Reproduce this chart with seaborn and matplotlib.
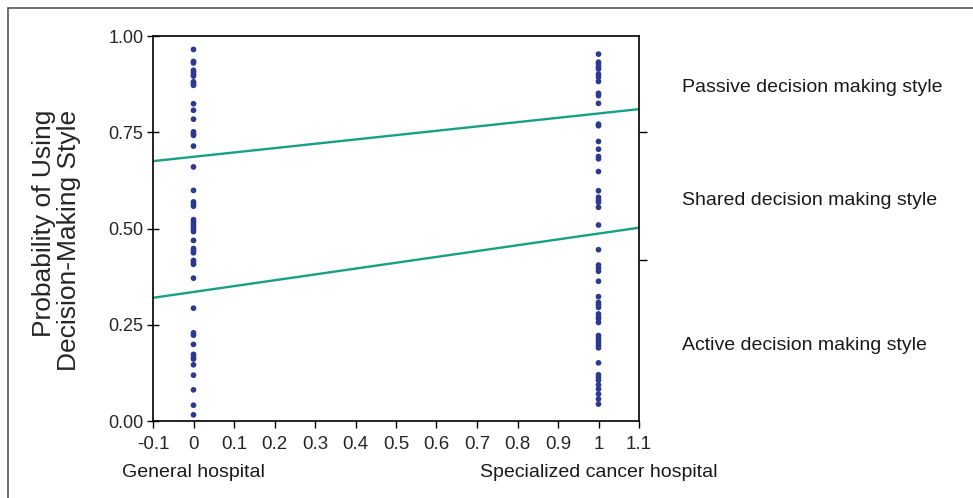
import numpy as np
import pandas as pd
import matplotlib.pyplot as plt
import matplotlib.patches as patches
import seaborn as sns

# Observed probabilities per hospital type (0 = general, 1 = specialized cancer)
general_probs = [0.965, 0.934, 0.930, 0.911, 0.906, 0.900, 0.896, 0.881, 0.876, 0.872,
                 0.824, 0.807, 0.784, 0.751, 0.746, 0.742, 0.714, 0.660, 0.599, 0.569,
                 0.564, 0.558, 0.523, 0.517, 0.511, 0.504, 0.498, 0.492, 0.469, 0.448,
                 0.442, 0.437, 0.417, 0.412, 0.407, 0.371, 0.293, 0.229, 0.223, 0.199,
                 0.173, 0.167, 0.161, 0.146, 0.119, 0.081, 0.041, 0.016]
specialized_probs = [0.953, 0.932, 0.927, 0.920, 0.914, 0.901, 0.893, 0.882, 0.851, 0.845,
                     0.825, 0.771, 0.767, 0.726, 0.706, 0.687, 0.681, 0.648, 0.598, 0.581,
                     0.574, 0.568, 0.555, 0.509, 0.445, 0.405, 0.397, 0.389, 0.363, 0.323,
                     0.308, 0.302, 0.295, 0.278, 0.271, 0.265, 0.256, 0.222, 0.216, 0.209,
                     0.203, 0.196, 0.190, 0.151, 0.120, 0.113, 0.106, 0.094, 0.083, 0.070,
                     0.057, 0.044]

# Fitted cumulative probability lines (ends at x = -0.1 and 1.1)
line_x = [-0.1, 1.1]
upper_line = [0.675, 0.810]
lower_line = [0.320, 0.502]

x_ticks = [-0.1, 0, 0.1, 0.2, 0.3, 0.4, 0.5, 0.6, 0.7, 0.8, 0.9, 1, 1.1]
x_ticklabels = ["-0.1", "0", "0.1", "0.2", "0.3", "0.4", "0.5", "0.6", "0.7", "0.8", "0.9", "1", "1.1"]
y_ticks = [0.0, 0.25, 0.5, 0.75, 1.0]
right_ticks = [0.75, 0.418]

hospital_labels = ["General hospital", "Specialized cancer hospital"]
style_labels = ["Passive decision making style", "Shared decision making style",
                "Active decision making style"]
style_label_y = [0.865, 0.574, 0.197]

pts = pd.DataFrame({
    "hospital": [0] * len(general_probs) + [1] * len(specialized_probs),
    "prob": general_probs + specialized_probs,
})
lines = pd.DataFrame({
    "x": line_x * 2,
    "y": upper_line + lower_line,
    "which": ["upper"] * 2 + ["lower"] * 2,
})

sns.set_style("white")
plt.rcParams['font.family'] = ['Liberation Sans', 'DejaVu Sans']

fig, ax = plt.subplots(figsize=(9.73, 4.98), dpi=100)
fig.subplots_adjust(left=153/973, right=639/973, top=1-36/498, bottom=1-421/498)

sns.lineplot(data=lines, x="x", y="y", units="which", estimator=None,
             color="#17a086", linewidth=1.7, ax=ax)
sns.scatterplot(data=pts, x="hospital", y="prob", color="#2b3a8e", s=17,
                edgecolor="none", ax=ax, zorder=3)

ax.set_xlim(-0.1, 1.1)
ax.set_ylim(0, 1)
ax.set_xticks(x_ticks)
ax.set_xticklabels(x_ticklabels, fontsize=13.5)
ax.set_yticks(y_ticks)
ax.set_yticklabels([f"{v:.2f}" for v in y_ticks], fontsize=13)
ax.tick_params(axis="x", direction="out", length=5, width=1, color="black", pad=6,
               bottom=True)
ax.tick_params(axis="y", direction="inout", length=8, width=1, color="black", pad=3,
               left=True)
ax.set_xlabel("")
ax.set_ylabel("Probability of Using\nDecision-Making Style", fontsize=19,
              linespacing=1.05, multialignment="right")
ax.yaxis.set_label_coords(-0.148, 0.47)
for s in ax.spines.values():
    s.set_color("black")
    s.set_linewidth(1.2)

# ticks on the right spine marking category boundaries
ax2 = ax.twinx()
ax2.set_ylim(0, 1)
ax2.set_yticks(right_ticks)
ax2.set_yticklabels([])
ax2.tick_params(axis="y", direction="out", length=6, width=1, color="black", right=True)
ax2.grid(False)
for s in ax2.spines.values():
    s.set_visible(False)

for xv, lab in zip([0, 1], hospital_labels):
    ax.text(xv, -0.135, lab, transform=ax.get_xaxis_transform(), ha="center",
            va="center", fontsize=14, color="#1a1a1a")

for yv, lab in zip(style_label_y, style_labels):
    ax.text(1.088, yv, lab, transform=ax.transAxes, ha="left", va="center",
            fontsize=14, color="#1a1a1a")

# outer frame of the figure panel
fig.patches.append(patches.Rectangle((8/973, -0.1), 1.2, (498-8)/498 + 0.1,
                                     transform=fig.transFigure, fill=False,
                                     edgecolor="#555555", linewidth=1.2))

plt.savefig("out.png", dpi=100)
